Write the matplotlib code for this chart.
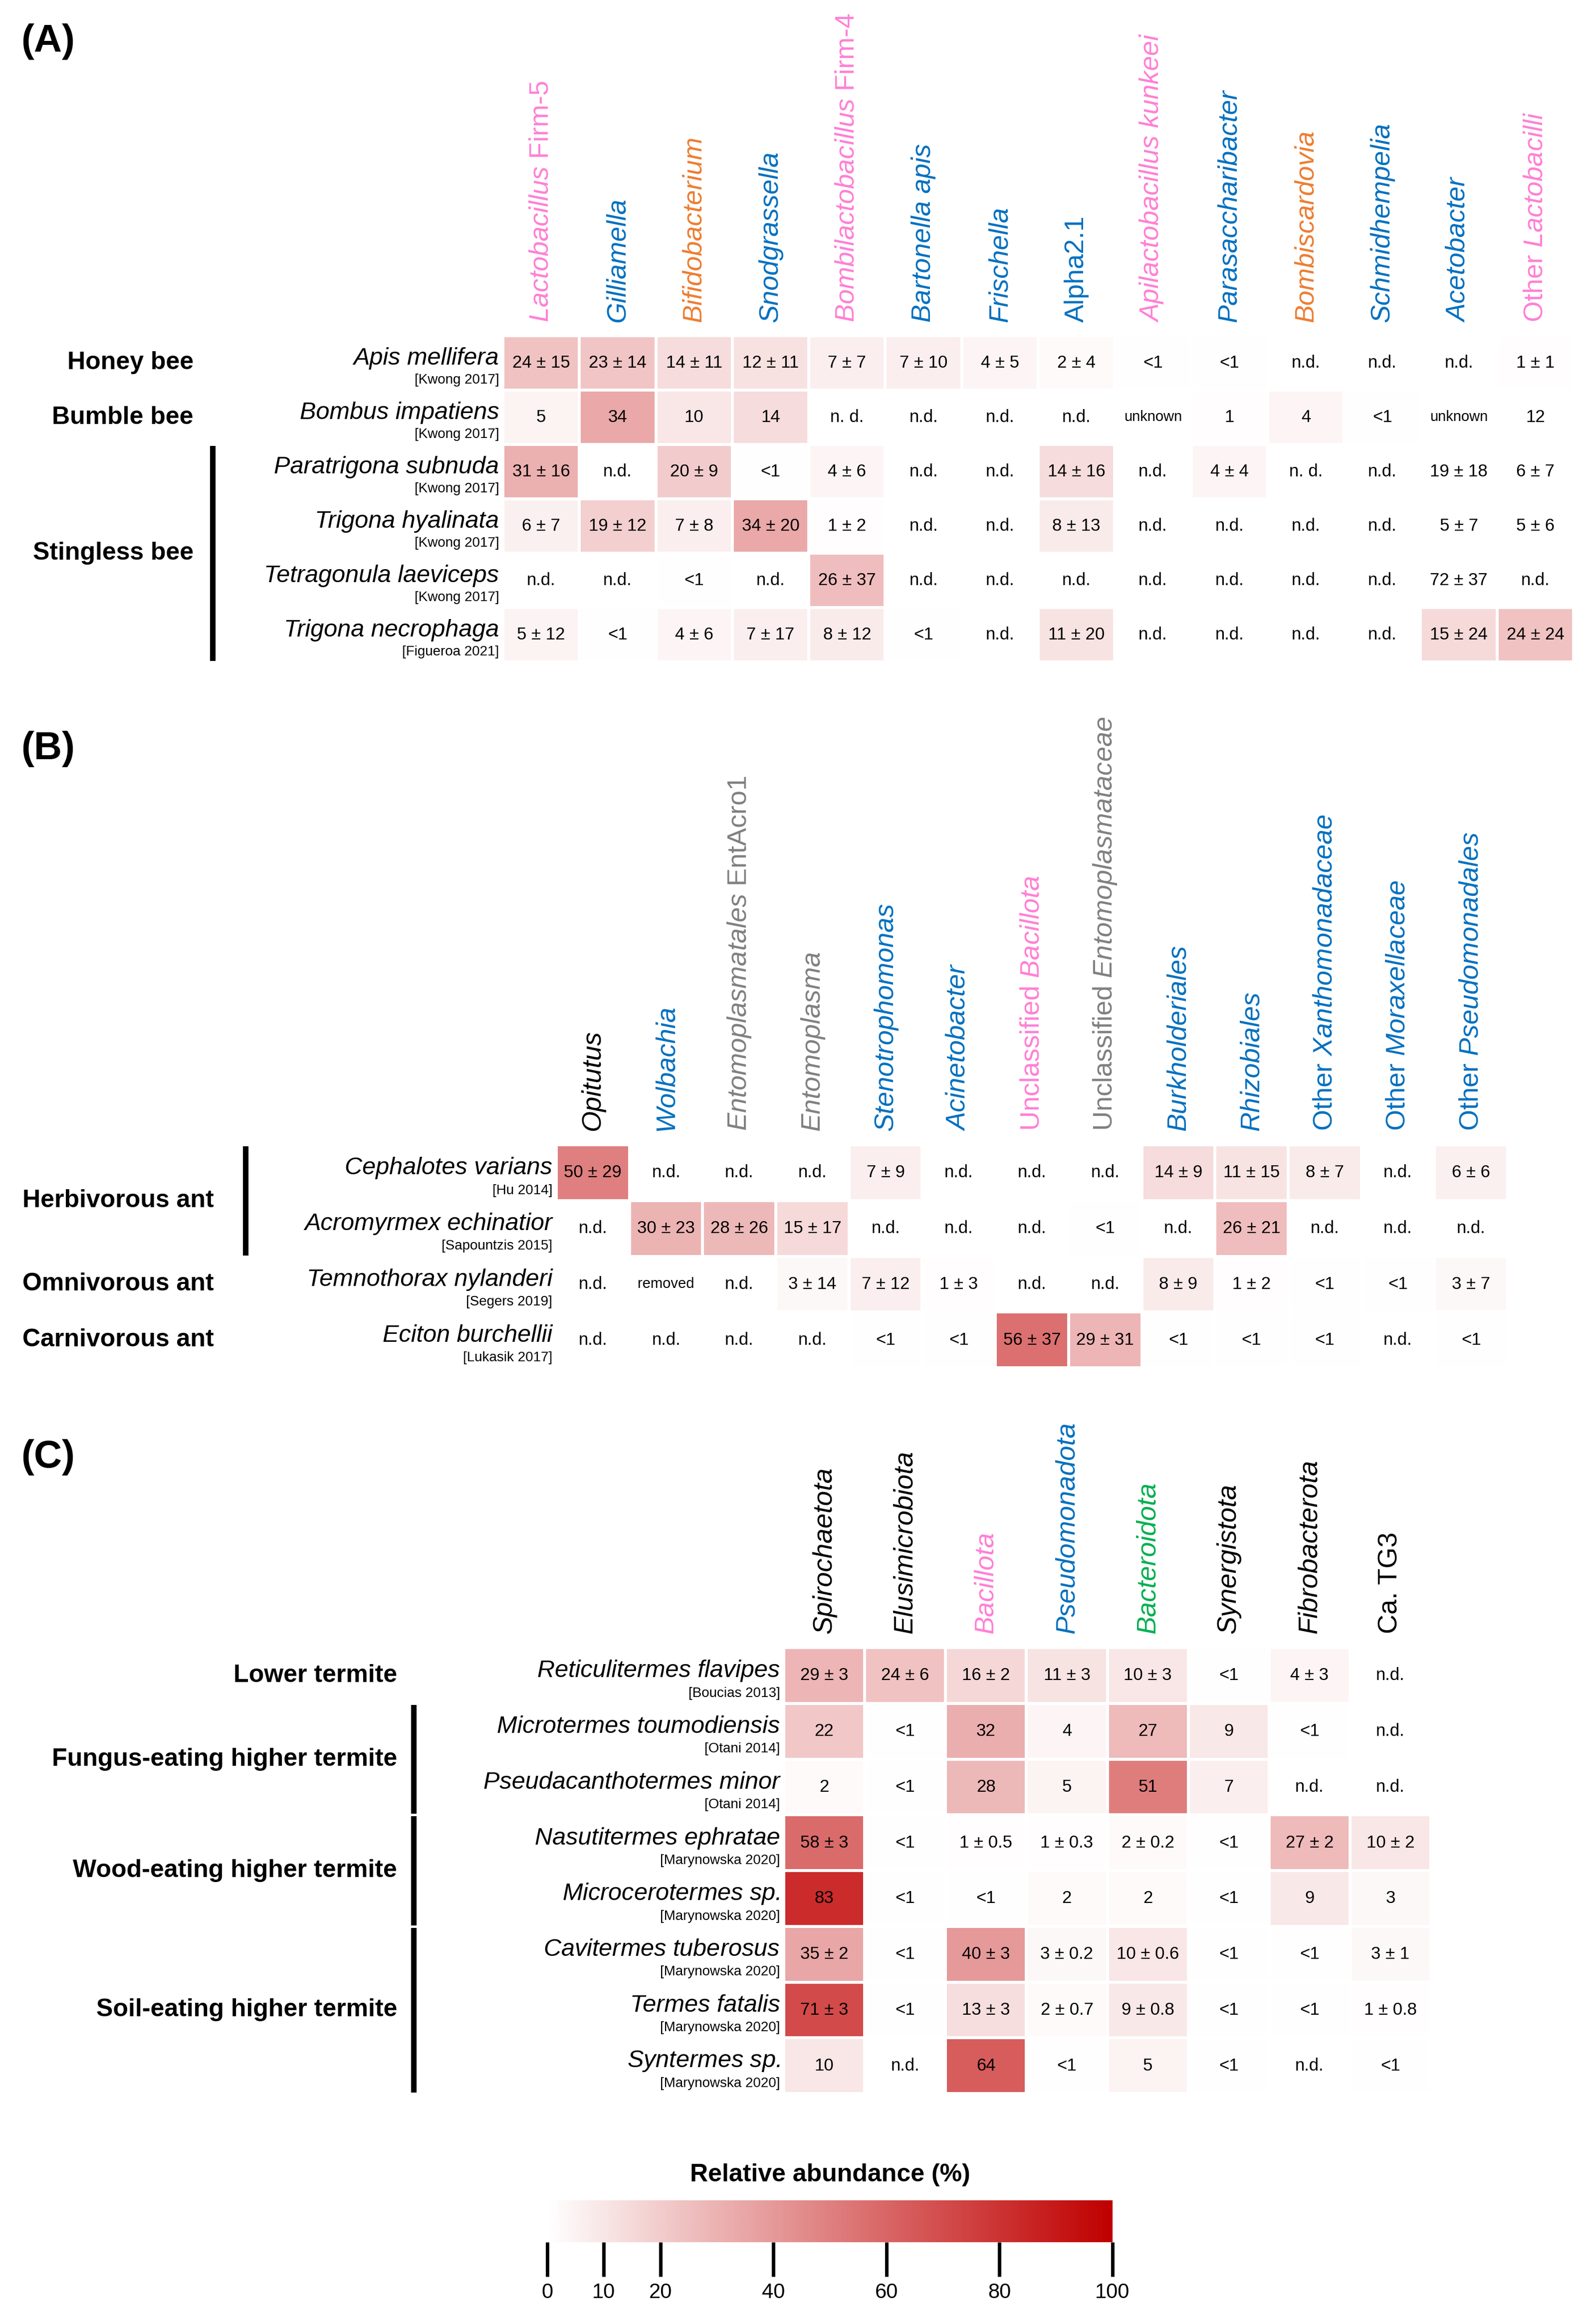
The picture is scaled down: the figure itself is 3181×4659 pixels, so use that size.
import matplotlib
matplotlib.use('Agg')
import matplotlib.pyplot as plt
import numpy as np
from matplotlib.colors import LinearSegmentedColormap

plt.rcParams['font.family'] = ['Liberation Sans', 'DejaVu Sans']
plt.rcParams['mathtext.fontset'] = 'custom'
plt.rcParams['mathtext.it'] = 'Liberation Sans:italic'
plt.rcParams['mathtext.rm'] = 'Liberation Sans'

W, H = 3181, 4659
NARROW = ['Liberation Sans Narrow', 'Liberation Sans']

PINK, BLUE, ORANGE, GRAY, GREEN, BLACK = '#ff80d5', '#0070c0', '#ed7d31', '#808080', '#00b050', 'black'

# ---------------- data ----------------
# column headers: (label, colour, italic) ; mixed labels use mathtext
a_cols = [(r'$\mathit{Lactobacillus}$ Firm-5', PINK, False), ('Gilliamella', BLUE, True),
          ('Bifidobacterium', ORANGE, True), ('Snodgrassella', BLUE, True),
          (r'$\mathit{Bombilactobacillus}$ Firm-4', PINK, False), ('Bartonella apis', BLUE, True),
          ('Frischella', BLUE, True), ('Alpha2.1', BLUE, False),
          ('Apilactobacillus kunkeei', PINK, True), ('Parasaccharibacter', BLUE, True),
          ('Bombiscardovia', ORANGE, True), ('Schmidhempelia', BLUE, True),
          ('Acetobacter', BLUE, True), (r'Other $\mathit{Lactobacilli}$', PINK, False)]
a_species = ['Apis mellifera', 'Bombus impatiens', 'Paratrigona subnuda', 'Trigona hyalinata',
             'Tetragonula laeviceps', 'Trigona necrophaga']
a_refs = ['[Kwong 2017]'] * 5 + ['[Figueroa 2021]']
a_vals = [
    ['24±15', '23±14', '14±11', '12±11', '7±7', '7±10', '4±5', '2±4', '<1', '<1', 'n.d.', 'n.d.', 'n.d.', '1±1'],
    ['5', '34', '10', '14', 'n. d.', 'n.d.', 'n.d.', 'n.d.', 'unknown', '1', '4', '<1', 'unknown', '12'],
    ['31±16', 'n.d.', '20±9', '<1', '4±6', 'n.d.', 'n.d.', '14±16', 'n.d.', '4±4', 'n. d.', 'n.d.', '19±18', '6±7'],
    ['6±7', '19±12', '7±8', '34±20', '1±2', 'n.d.', 'n.d.', '8±13', 'n.d.', 'n.d.', 'n.d.', 'n.d.', '5±7', '5±6'],
    ['n.d.', 'n.d.', '<1', 'n.d.', '26±37', 'n.d.', 'n.d.', 'n.d.', 'n.d.', 'n.d.', 'n.d.', 'n.d.', '72±37', 'n.d.'],
    ['5±12', '<1', '4±6', '7±17', '8±12', '<1', 'n.d.', '11±20', 'n.d.', 'n.d.', 'n.d.', 'n.d.', '15±24', '24±24'],
]
a_unshaded = [(1, 13), (2, 12), (2, 13), (3, 12), (3, 13), (4, 12)]
a_groups = [('Honey bee', 0, 0, False), ('Bumble bee', 1, 1, False), ('Stingless bee', 2, 5, True)]

b_cols = [('Opitutus', BLACK, True), ('Wolbachia', BLUE, True),
          (r'$\mathit{Entomoplasmatales}$ EntAcro1', GRAY, False), ('Entomoplasma', GRAY, True),
          ('Stenotrophomonas', BLUE, True), ('Acinetobacter', BLUE, True),
          (r'Unclassified $\mathit{Bacillota}$', PINK, False),
          (r'Unclassified $\mathit{Entomoplasmataceae}$', GRAY, False),
          ('Burkholderiales', BLUE, True), ('Rhizobiales', BLUE, True),
          (r'Other $\mathit{Xanthomonadaceae}$', BLUE, False),
          (r'Other $\mathit{Moraxellaceae}$', BLUE, False),
          (r'Other $\mathit{Pseudomonadales}$', BLUE, False)]
b_species = ['Cephalotes varians', 'Acromyrmex echinatior', 'Temnothorax nylanderi', 'Eciton burchellii']
b_refs = ['[Hu 2014]', '[Sapountzis 2015]', '[Segers 2019]', '[Lukasik 2017]']
b_vals = [
    ['50±29', 'n.d.', 'n.d.', 'n.d.', '7±9', 'n.d.', 'n.d.', 'n.d.', '14±9', '11±15', '8±7', 'n.d.', '6±6'],
    ['n.d.', '30±23', '28±26', '15±17', 'n.d.', 'n.d.', 'n.d.', '<1', 'n.d.', '26±21', 'n.d.', 'n.d.', 'n.d.'],
    ['n.d.', 'removed', 'n.d.', '3±14', '7±12', '1±3', 'n.d.', 'n.d.', '8±9', '1±2', '<1', '<1', '3±7'],
    ['n.d.', 'n.d.', 'n.d.', 'n.d.', '<1', '<1', '56±37', '29±31', '<1', '<1', '<1', 'n.d.', '<1'],
]
b_unshaded = []
b_groups = [('Herbivorous ant', 0, 1, True), ('Omnivorous ant', 2, 2, False), ('Carnivorous ant', 3, 3, False)]

c_cols = [('Spirochaetota', BLACK, True), ('Elusimicrobiota', BLACK, True), ('Bacillota', PINK, True),
          ('Pseudomonadota', BLUE, True), ('Bacteroidota', GREEN, True), ('Synergistota', BLACK, True),
          ('Fibrobacterota', BLACK, True), ('Ca. TG3', BLACK, False)]
c_species = ['Reticulitermes flavipes', 'Microtermes toumodiensis', 'Pseudacanthotermes minor',
             'Nasutitermes ephratae', r'$\mathit{Microcerotermes}$ sp.', r'$\mathit{Cavitermes\ tuberosus}$',
             'Termes fatalis', r'$\mathit{Syntermes}$ sp.']
c_refs = ['[Boucias 2013]', '[Otani 2014]', '[Otani 2014]'] + ['[Marynowska 2020]'] * 5
c_vals = [
    ['29±3', '24±6', '16±2', '11±3', '10±3', '<1', '4±3', 'n.d.'],
    ['22', '<1', '32', '4', '27', '9', '<1', 'n.d.'],
    ['2', '<1', '28', '5', '51', '7', 'n.d.', 'n.d.'],
    ['58±3', '<1', '1±0.5', '1±0.3', '2±0.2', '<1', '27±2', '10±2'],
    ['83', '<1', '<1', '2', '2', '<1', '9', '3'],
    ['35±2', '<1', '40±3', '3±0.2', '10±0.6', '<1', '<1', '3±1'],
    ['71±3', '<1', '13±3', '2±0.7', '9±0.8', '<1', '<1', '1±0.8'],
    ['10', 'n.d.', '64', '<1', '5', '<1', 'n.d.', '<1'],
]
c_unshaded = []
c_groups = [('Lower termite', 0, 0, False), ('Fungus-eating higher termite', 1, 2, True),
            ('Wood-eating higher termite', 3, 4, True), ('Soil-eating higher termite', 5, 7, True)]

cbar_ticks = [0, 10, 20, 40, 60, 80, 100]

cmap = LinearSegmentedColormap.from_list('wr', ['#ffffff', '#c00000'])


def shade(s):
    s = s.strip()
    if s.startswith('<'):
        return 0.7
    try:
        return float(s.split('±')[0])
    except ValueError:
        return 0.0


fig = plt.figure(figsize=(W / 100, H / 100), dpi=100)


def px_ax(x0, y0, x1, y1):
    return fig.add_axes([x0 / W, 1 - y1 / H, (x1 - x0) / W, (y1 - y0) / H])


def panel(box, cols, species, refs, vals, unshaded, groups, glabel_x, glabel_ha, bar_x, letter_y, letter):
    x0, y0, x1, y1 = box
    ax = px_ax(x0, y0, x1, y1)
    nr, nc = len(vals), len(cols)
    z = np.array([[shade(v) for v in row] for row in vals])
    for (r, c) in unshaded:
        z[r, c] = 0
    ax.pcolormesh(np.arange(nc + 1), np.arange(nr + 1), z, cmap=cmap, vmin=0, vmax=100,
                  edgecolors='white', linewidth=4)
    ax.set_xlim(0, nc)
    ax.set_ylim(nr, 0)
    ax.axis('off')
    cw = (x1 - x0) / nc
    rh = (y1 - y0) / nr
    for i, row in enumerate(vals):
        for j, v in enumerate(row):
            small = v == 'unknown' or v == 'removed'
            ax.text(j + 0.5, i + 0.5, v.replace('±', ' ± ') if '±' in v else v,
                    ha='center', va='center', fontsize=21 if small else 25, family=NARROW)
    for j, (lab, col, it) in enumerate(cols):
        ax.text(j + 0.5, -0.25, lab, rotation=90, ha='center', va='bottom', color=col,
                style='italic' if it else 'normal', fontsize=39, clip_on=False)
    off = -0.15 * 51 / cw
    for i, (sp, rf) in enumerate(zip(species, refs)):
        ax.text(off, i + 0.42, sp, ha='right', va='center', style='italic',
                fontsize=35, family=NARROW, clip_on=False)
        ax.text(off, i + 0.82, rf, ha='right', va='center',
                fontsize=20, family=NARROW, clip_on=False)
    for name, r0, r1, bar in groups:
        yc = y0 + (r0 + r1 + 1) / 2 * rh
        fig.text(glabel_x / W, 1 - yc / H, name, ha=glabel_ha, va='center',
                 fontsize=36, fontweight='bold')
        if bar:
            fig.add_artist(plt.Line2D([bar_x / W, bar_x / W],
                                      [1 - (y0 + r0 * rh + 8) / H, 1 - (y0 + (r1 + 1) * rh - 8) / H],
                                      color='black', lw=8))
    fig.text(42 / W, 1 - letter_y / H, letter, ha='left', va='center', fontsize=56, fontweight='bold')


panel((1008, 673, 3154, 1327), a_cols, a_species, a_refs, a_vals, a_unshaded, a_groups,
      388, 'right', 426, 83, '(A)')
panel((1115, 2295, 3022, 2742), b_cols, b_species, b_refs, b_vals, b_unshaded, b_groups,
      45, 'left', 492, 1502, '(B)')
panel((1571, 3303, 2868, 4197), c_cols, c_species, c_refs, c_vals, c_unshaded, c_groups,
      796, 'right', 829, 2921, '(C)')

# colorbar
cax = px_ax(1097, 4411, 2230, 4495)
grad = np.linspace(0, 100, 512)[None, :]
cax.imshow(grad, cmap=cmap, aspect='auto', extent=[0, 100, 0, 1], vmin=0, vmax=100)
cax.set_yticks([])
cax.set_xticks(cbar_ticks)
cax.set_xticklabels([str(t) for t in cbar_ticks], fontsize=30)
cax.tick_params(axis='x', length=50, width=5, pad=8)
for s in cax.spines.values():
    s.set_visible(False)
fig.text((1097 + 2230) / 2 / W, 1 - 4360 / H, 'Relative abundance (%)', ha='center', va='center',
         fontsize=36, fontweight='bold')

fig.savefig('out.png', dpi=100)
